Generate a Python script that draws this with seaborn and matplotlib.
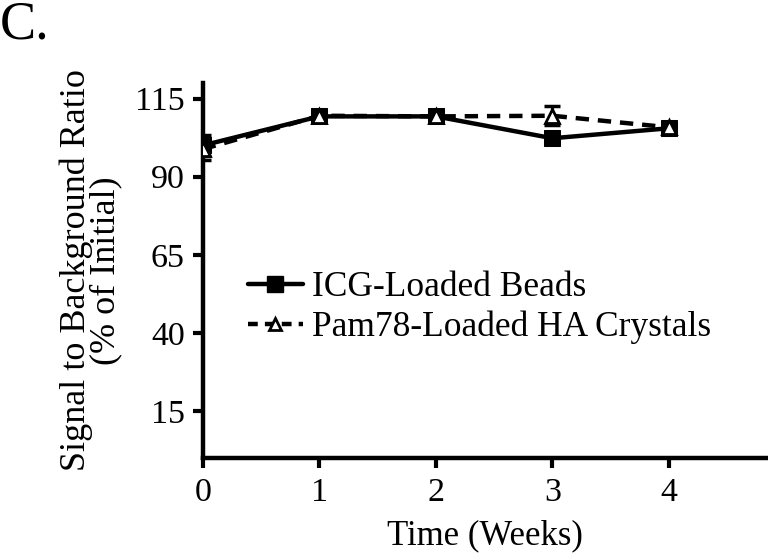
import matplotlib
matplotlib.use("Agg")
import matplotlib.pyplot as plt
import seaborn as sns
import pandas as pd
from matplotlib.lines import Line2D

weeks = [0, 1, 2, 3, 4]
icg_values = [100.0, 109.3, 109.3, 102.3, 105.5]
icg_errors = [3.5, 1.5, 1.5, 1.2, 1.2]
pam_values = [98.8, 109.5, 109.3, 109.5, 105.8]
pam_errors = [3.5, 1.5, 1.5, 3.0, 1.5]
series_names = ["ICG-Loaded Beads", "Pam78-Loaded HA Crystals"]
y_ticks = [15, 40, 65, 90, 115]
x_ticks = [0, 1, 2, 3, 4]

sns.set_style("ticks", {"axes.edgecolor": "black", "text.color": "black",
                        "axes.labelcolor": "black", "xtick.color": "black",
                        "ytick.color": "black"})
plt.rcParams['font.family'] = ['Liberation Serif', 'DejaVu Serif']

df = pd.DataFrame({
    "week": weeks * 2,
    "value": icg_values + pam_values,
    "series": [series_names[0]] * 5 + [series_names[1]] * 5,
})

fig = plt.figure(figsize=(7.68, 5.53), dpi=100)
ax = fig.add_axes([0.264, 0.172, 0.736, 0.678])

ax.errorbar(weeks, icg_values, yerr=icg_errors, fmt='none', ecolor='black',
            elinewidth=2.2, capsize=6, capthick=2.5, zorder=2)
ax.errorbar(weeks, pam_values, yerr=pam_errors, fmt='none', ecolor='black',
            elinewidth=2.2, capsize=6, capthick=2.5, zorder=2)

sns.lineplot(data=df[df.series == series_names[0]], x="week", y="value", ax=ax,
             color='black', linewidth=3.2, marker='s', markersize=12,
             markerfacecolor='black', markeredgecolor='black', legend=False, zorder=3)
sns.lineplot(data=df[df.series == series_names[1]], x="week", y="value", ax=ax,
             color='black', linewidth=3.2, linestyle=(0, (3, 2)), marker='^', markersize=10,
             markerfacecolor='white', markeredgecolor='black', markeredgewidth=2,
             legend=False, zorder=4)

ax.set_xlim(0, 4.85)
ax.set_ylim(0, 120)
ax.set_xticks(x_ticks)
ax.set_yticks(y_ticks)
ax.set_xticklabels([str(t) for t in x_ticks])
ax.set_yticklabels([str(t) for t in y_ticks])
for s in ['top', 'right']:
    ax.spines[s].set_visible(False)
for s in ['left', 'bottom']:
    ax.spines[s].set_linewidth(3.2)
    ax.spines[s].set_color('black')
ax.tick_params(axis='both', width=3, length=7, labelsize=24.5, direction='out',
               colors='black')
ax.tick_params(axis='y', pad=6)
ax.tick_params(axis='x', pad=7)
ax.set_xlabel("Time (Weeks)", fontsize=25, labelpad=8, color='black')
ax.set_ylabel("Signal to Background Ratio\n(% of Initial)", fontsize=26,
              linespacing=0.85, labelpad=9, color='black')

handles = [
    Line2D([], [], color='black', linewidth=3.2, marker='s', markersize=12),
    Line2D([], [], color='black', linewidth=3.2, linestyle=(0, (2.2, 1.6)), marker='^', markersize=9,
           markerfacecolor='white', markeredgecolor='black', markeredgewidth=2),
]
leg = ax.legend(handles, series_names, loc='center left', bbox_to_anchor=(0.0796, 0.401),
                frameon=False, fontsize=25.5, handlelength=1.55, handletextpad=0.26,
                labelspacing=0.18, borderaxespad=0, borderpad=0)
for t in leg.get_texts():
    t.set_color('black')

fig.text(0.0, 1.0, "C.", fontsize=39, ha='left', va='top', color='black')

fig.savefig("out.png", dpi=100)
